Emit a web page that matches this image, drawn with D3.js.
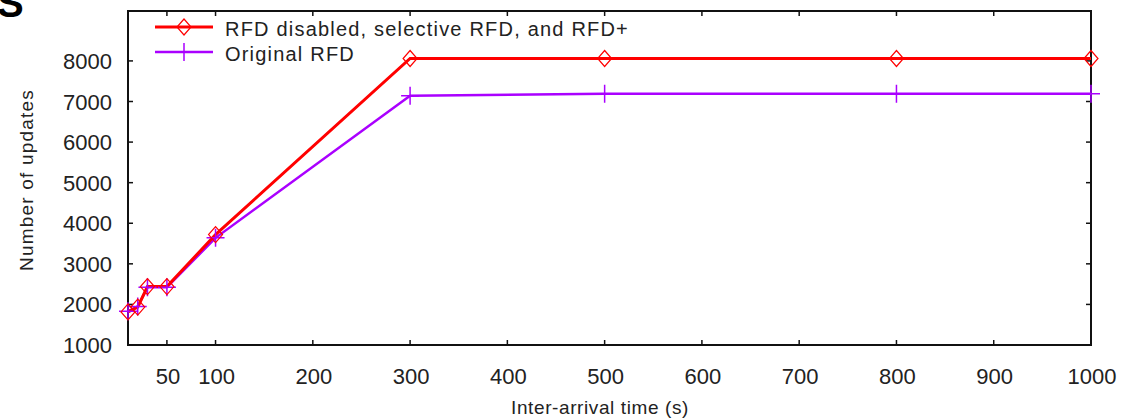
<!DOCTYPE html>
<html>
<head>
<meta charset="utf-8">
<script src="https://cdn.jsdelivr.net/npm/d3@7"></script>
<style>
  html, body { margin: 0; padding: 0; background: #fff; }
  svg { display: block; }
  text { font-family: "Liberation Sans", Arial, sans-serif; fill: #222; }
</style>
</head>
<body>
<svg id="chart" width="1122" height="420"></svg>
<script>
// ---- data ----
const interArrival = [10, 20, 30, 50, 100, 300, 500, 800, 1000];
const rfdDisabled = [1815, 1935, 2440, 2440, 3720, 8060, 8060, 8060, 8060];
const originalRfd = [1830, 1950, 2420, 2420, 3640, 7140, 7190, 7190, 7190];
const xTicks = [50, 100, 200, 300, 400, 500, 600, 700, 800, 900, 1000];
const yTicks = [1000, 2000, 3000, 4000, 5000, 6000, 7000, 8000];
const seriesNames = ["RFD disabled, selective RFD, and RFD+", "Original RFD"];
const seriesColors = ["#ff0000", "#aa00ff"];

const svg = d3.select("#chart");
const x = d3.scaleLinear().domain([10, 1000]).range([128, 1091]);
const y = d3.scaleLinear().domain([1000, 9230]).range([345, 11]);

const [x0, x1] = x.range();
const [y0, y1] = y.range();

// frame
svg.append("rect")
  .attr("x", x0).attr("y", y1)
  .attr("width", x1 - x0).attr("height", y0 - y1)
  .attr("fill", "none").attr("stroke", "#111").attr("stroke-width", 2);

const tickLen = 5;
// x ticks (bottom and mirrored top)
const xt = svg.append("g");
xTicks.forEach(v => {
  if (v < 1000) {
    xt.append("line").attr("x1", x(v)).attr("x2", x(v)).attr("y1", y0).attr("y2", y0 - tickLen)
      .attr("stroke", "#111").attr("stroke-width", 1.5);
    xt.append("line").attr("x1", x(v)).attr("x2", x(v)).attr("y1", y1).attr("y2", y1 + tickLen)
      .attr("stroke", "#111").attr("stroke-width", 1.5);
  }
  xt.append("text").attr("x", x(v) + 1).attr("y", 384)
    .attr("text-anchor", "middle").style("font-size", "22px").text(v);
});
// y ticks (left and mirrored right)
const yt = svg.append("g");
yTicks.forEach(v => {
  if (v > 1000) {
    yt.append("line").attr("x1", x0).attr("x2", x0 + tickLen).attr("y1", y(v)).attr("y2", y(v))
      .attr("stroke", "#111").attr("stroke-width", 1.5);
    yt.append("line").attr("x1", x1).attr("x2", x1 - tickLen).attr("y1", y(v)).attr("y2", y(v))
      .attr("stroke", "#111").attr("stroke-width", 1.5);
  }
  yt.append("text").attr("x", 112).attr("y", y(v) + 8)
    .attr("text-anchor", "end").style("font-size", "22px").text(v);
});

// axis titles
svg.append("text").attr("transform", "translate(33,180) rotate(-90)")
  .attr("text-anchor", "middle").style("font-size", "19px").style("letter-spacing", "1.2px")
  .text("Number of updates");
svg.append("text").attr("x", 600).attr("y", 414)
  .attr("text-anchor", "middle").style("font-size", "19px").style("letter-spacing", "0.6px")
  .text("Inter-arrival time (s)");

// partial title letter at top-left
svg.append("text").attr("x", -3).attr("y", 17)
  .style("font-size", "40px").style("font-weight", "bold").style("fill", "#000").text("S");

// lines
const line = d3.line().x((d, i) => x(interArrival[i])).y(d => y(d));
const plot = svg.append("g");

function diamond(g, cx, cy, color) {
  g.append("path")
    .attr("d", `M${cx},${cy - 8}L${cx + 7},${cy}L${cx},${cy + 8}L${cx - 7},${cy}Z`)
    .attr("fill", "none").attr("stroke", color).attr("stroke-width", 1.2);
}
function cross(g, cx, cy, color) {
  g.append("path")
    .attr("d", `M${cx - 9},${cy}H${cx + 9}M${cx},${cy - 9}V${cy + 9}`)
    .attr("fill", "none").attr("stroke", color).attr("stroke-width", 1.5);
}

// purple (original RFD)
plot.append("path").datum(originalRfd).attr("d", line)
  .attr("fill", "none").attr("stroke", seriesColors[1]).attr("stroke-width", 2.5);
// red
plot.append("path").datum(rfdDisabled).attr("d", line)
  .attr("fill", "none").attr("stroke", seriesColors[0]).attr("stroke-width", 3);
originalRfd.forEach((v, i) => cross(plot, x(interArrival[i]), y(v), seriesColors[1]));
rfdDisabled.forEach((v, i) => diamond(plot, x(interArrival[i]), y(v), seriesColors[0]));

// legend
const leg = svg.append("g");
seriesNames.forEach((name, i) => {
  const ly = 27 + i * 25;
  leg.append("line").attr("x1", 155).attr("x2", 213).attr("y1", ly).attr("y2", ly)
    .attr("stroke", seriesColors[i]).attr("stroke-width", i === 0 ? 3 : 2.5);
  if (i === 0) diamond(leg, 184, ly, seriesColors[i]); else cross(leg, 184, ly, seriesColors[i]);
  leg.append("text").attr("x", 225).attr("y", ly + 9)
    .style("font-size", "20px").style("letter-spacing", "1.2px").text(name);
});
</script>
</body>
</html>
